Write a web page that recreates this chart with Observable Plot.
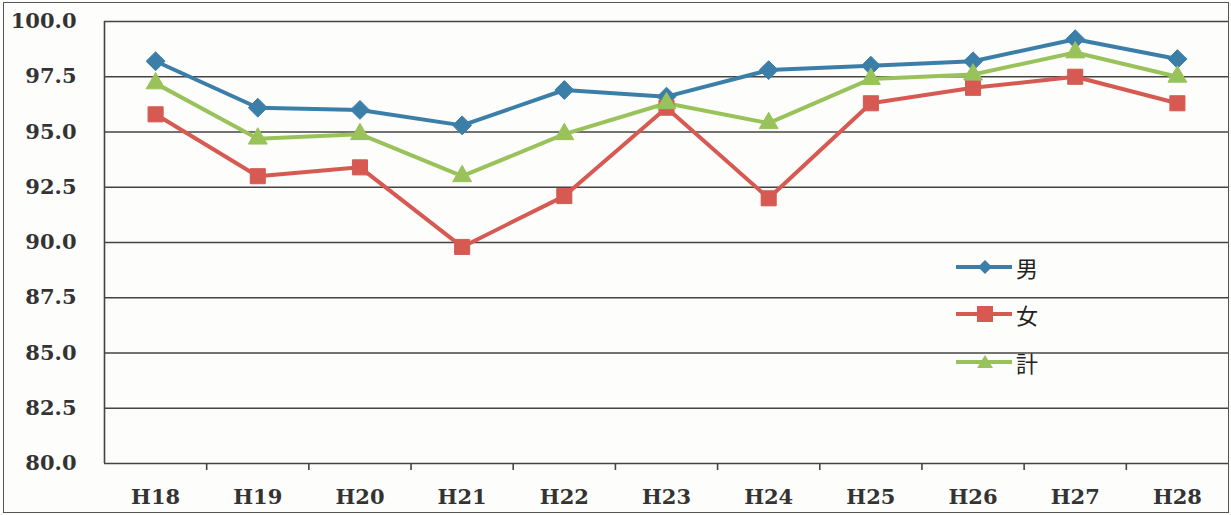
<!DOCTYPE html>
<html><head><meta charset="utf-8">
<script src="https://cdn.jsdelivr.net/npm/d3@7"></script>
<script src="https://cdn.jsdelivr.net/npm/@observablehq/plot@0.6"></script>
<style>
body{margin:0;background:#fff;}
#wrap{position:relative;width:1231px;height:515px;background:#fdfdfb;overflow:hidden;}
#border{position:absolute;left:3px;top:2px;width:1224px;height:509px;border:1.5px solid #555;pointer-events:none;}
#legend{position:absolute;left:952px;top:243px;font-family:"Noto Sans CJK JP",sans-serif;font-size:22px;color:#222;}
.li{display:flex;align-items:center;height:47.5px;}
.li span{margin-left:2px;}
</style></head>
<body><div id="wrap"><div id="chart"></div><div id="legend"></div><div id="border"></div></div>
<script>
const categories = ["H18","H19","H20","H21","H22","H23","H24","H25","H26","H27","H28"];
const male   = [98.2, 96.1, 96.0, 95.3, 96.9, 96.6, 97.8, 98.0, 98.2, 99.2, 98.3];
const female = [95.8, 93.0, 93.4, 89.8, 92.1, 96.1, 92.0, 96.3, 97.0, 97.5, 96.3];
const total  = [97.2, 94.7, 94.9, 93.0, 94.9, 96.3, 95.4, 97.4, 97.6, 98.6, 97.5];
const seriesNames = ["男","女","計"];
const yTicks = [80, 82.5, 85, 87.5, 90, 92.5, 95, 97.5, 100];

const colors = {"男":"#3b7fa9","女":"#d65a52","計":"#99c35a"};
const symbols = {"男":"diamond2","女":"square","計":"triangle"};
const sizes = {"男":8.5,"女":8.5,"計":7};

const rows = [];
[male, female, total].forEach((vals, s) => {
  vals.forEach((v, i) => rows.push({series: seriesNames[s], i, cat: categories[i], value: v}));
});

const lineMarks = [];
for (const name of seriesNames) {
  const d = rows.filter(r => r.series === name);
  lineMarks.push(Plot.line(d, {x: "i", y: "value", stroke: colors[name], strokeWidth: 4}));
}
const dotMarks = [];
for (const name of seriesNames) {
  const d = rows.filter(r => r.series === name);
  dotMarks.push(Plot.dot(d, {x: "i", y: "value", symbol: () => symbols[name], fill: colors[name], stroke: colors[name], strokeWidth: 1, r: sizes[name]}));
}

const chart = Plot.plot({
  width: 1231, height: 515,
  marginLeft: 104, marginRight: 3, marginTop: 21, marginBottom: 52,
  style: {background: "transparent", fontFamily: "'DejaVu Serif', serif"},
  x: {type: "linear", domain: [-0.5, categories.length - 0.5], axis: null, label: null},
  y: {domain: [80, 100], axis: null, label: null},
  symbol: {type: "identity"},
  marks: [
    Plot.ruleY(yTicks, {stroke: "#444", strokeWidth: 1.6}),
    Plot.ruleX([-0.5], {stroke: "#444", strokeWidth: 1.6}),
    Plot.axisY({ticks: yTicks, tickSize: 0, tickPadding: 28, label: null, tickFormat: d => d.toFixed(1), fontSize: 21, fontWeight: "bold", fill: "#333"}),
    Plot.axisX({ticks: d3.range(categories.length), tickSize: 0, tickPadding: 26, label: null, tickFormat: i => categories[i], fontSize: 21, fontWeight: "bold", fill: "#333"}),
    Plot.axisX({ticks: d3.range(0.5, categories.length - 0.5), tickSize: 7, label: null, tickFormat: () => "", stroke: "#444", strokeWidth: 1.6}),
    ...lineMarks,
    ...dotMarks
  ]
});
document.getElementById("chart").append(chart);

// legend
const leg = document.getElementById("legend");
const shapes = {
  "男": '<path d="M33,3 L40,10 L33,17 L26,10Z" />',
  "女": '<rect x="25" y="2" width="16" height="16" />',
  "計": '<path d="M33,3 L41,16 L25,16Z" />'
};
for (const name of seriesNames) {
  const div = document.createElement("div");
  div.className = "li";
  div.innerHTML = `<svg width="62" height="20"><line x1="4" x2="60" y1="10" y2="10" stroke="${colors[name]}" stroke-width="4"/><g fill="${colors[name]}">${shapes[name]}</g></svg><span>${name}</span>`;
  leg.append(div);
}
</script></body></html>
